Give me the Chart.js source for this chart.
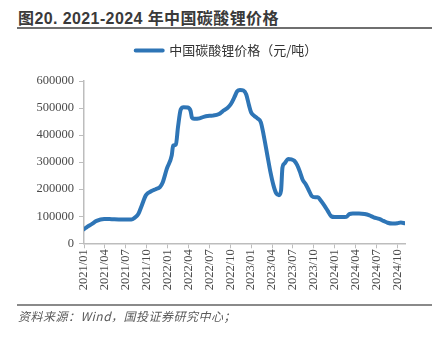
<!DOCTYPE html>
<html>
<head>
<meta charset="utf-8">
<script src="https://cdn.jsdelivr.net/npm/chart.js@4/dist/chart.umd.min.js"></script>
<style>
  html, body { margin: 0; padding: 0; background: #fff; }
  #page { position: relative; width: 436px; height: 338px; overflow: hidden; }
  #title { position: absolute; left: 18px; top: 5px; font: bold 16px "Liberation Sans", "Noto Sans CJK SC", sans-serif; color: #3a3a3a; letter-spacing: 0.4px; white-space: nowrap; }
  #title .cjk { font-family: "Noto Sans CJK SC", sans-serif; }
  .rule { position: absolute; left: 17px; width: 415px; }
  #ruleTop { top: 27px; height: 2px; background: #6f6f6f; }
  #ruleBottom { top: 304px; height: 2px; background: #8a8a8a; }
  #source { position: absolute; left: 18px; top: 307px; font: italic 12px "Noto Sans CJK SC", sans-serif; color: #5a5a5a; letter-spacing: 0.5px; white-space: nowrap; }
  #wrap { position: absolute; left: 0; top: 35px; width: 436px; height: 270px; }
</style>
</head>
<body>
<div id="page">
  <div id="title"><span class="cjk">图</span>20. 2021-2024 <span class="cjk">年中国碳酸锂价格</span></div>
  <div class="rule" id="ruleTop"></div>
  <div id="wrap"><canvas id="myChart"></canvas></div>
  <div class="rule" id="ruleBottom"></div>
  <div id="source">资料来源：Wind，国投证券研究中心；</div>
</div>
<script>
'use strict';

// 系列名
const seriesName = '中国碳酸锂价格（元/吨）';

// 横轴位置：自 2021/01 起的月数
const monthIdx = [
  0.0, 0.5, 1.1, 1.8, 2.9, 4.0, 5.0, 6.0, 6.8, 7.3,
  7.8, 8.3, 8.9, 9.7, 10.3, 10.9, 11.3, 11.9, 12.6, 12.8,
  13.2, 13.5, 13.9, 14.3, 14.9, 15.3, 15.5, 15.8, 16.6, 17.5,
  18.5, 19.4, 19.9, 20.6, 21.1, 21.6, 22.0, 22.4, 22.9, 23.3,
  23.7, 24.0, 24.5, 24.9, 25.4, 25.8, 26.3, 26.8, 27.2, 27.6,
  28.0, 28.3, 28.5, 28.8, 29.3, 29.8, 30.2, 30.6, 31.0, 31.4,
  31.8, 32.3, 32.7, 33.2, 33.6, 34.0, 34.5, 35.0, 35.5, 36.0,
  37.0, 37.7, 38.1, 38.6, 39.5, 40.3, 41.0, 41.6, 42.4, 43.0,
  43.6, 44.3, 45.0, 45.5, 46.1
];

// 价格（元/吨）
const prices = [
  52000, 62000, 71000, 83000, 90000, 89000, 88000, 88000, 88000, 95000,
  108000, 140000, 178000, 193000, 200000, 208000, 225000, 276000, 325000, 361000,
  365000, 430000, 495000, 503000, 502000, 490000, 465000, 460000, 462000, 470000,
  472000, 478000, 488000, 500000, 515000, 540000, 562000, 567000, 565000, 550000,
  510000, 484000, 470000, 462000, 447000, 400000, 330000, 260000, 215000, 185000,
  178000, 195000, 280000, 295000, 312000, 310000, 305000, 290000, 265000, 235000,
  220000, 195000, 175000, 170000, 170000, 158000, 140000, 120000, 100000, 97000,
  97000, 98000, 108000, 110000, 110000, 108000, 103000, 96000, 90000, 83000,
  76000, 73000, 74000, 77000, 74000
];

// 横轴刻度标签（每季度）
const tickLabels = [
  '2021/01', '2021/04', '2021/07', '2021/10',
  '2022/01', '2022/04', '2022/07', '2022/10',
  '2023/01', '2023/04', '2023/07', '2023/10',
  '2024/01', '2024/04', '2024/07', '2024/10'
];

const yTicks = [0, 100000, 200000, 300000, 400000, 500000, 600000];

const blue = '#2e75b6';
const axisColor = '#bdbdbd';
const tickFont = { family: 'Liberation Serif', size: 12.5 };

const points = monthIdx.map((m, i) => ({ x: m, y: prices[i] }));

// 图例下方留白
const legendGap = {
  id: 'legendGap',
  beforeUpdate(chart) {
    const lg = chart.legend;
    if (lg && !lg._gapPatched) {
      const fit = lg.fit;
      lg.fit = function () {
        fit.call(this);
        this.height += 14;
      };
      lg._gapPatched = true;
    }
  }
};

const canvas = document.getElementById('myChart');
canvas.width = 436;
canvas.height = 270;
canvas.style.width = '436px';
canvas.style.height = '270px';
const ctx = canvas.getContext('2d');

const config = {
  type: 'line',
  data: {
    datasets: [{
      label: seriesName,
      data: points,
      borderColor: blue,
      backgroundColor: blue,
      borderWidth: 4,
      pointRadius: 0,
      cubicInterpolationMode: 'monotone',
      borderCapStyle: 'round',
      borderJoinStyle: 'round',
    }]
  },
  options: {
    responsive: false,
    animation: false,
    layout: { padding: { top: 4, right: 0, left: 17, bottom: 0 } },
    scales: {
      x: {
        type: 'linear',
        min: 0,
        max: 46.1,
        afterFit: (scale) => { scale.height = 61.7; },
        grid: { drawOnChartArea: false, drawTicks: true, tickLength: 5, color: axisColor, lineWidth: 1 },
        border: { color: axisColor, width: 1.5 },
        ticks: {
          stepSize: 3,
          includeBounds: false,
          autoSkip: false,
          minRotation: 90,
          maxRotation: 90,
          padding: 1,
          color: '#4a4a4a',
          font: tickFont,
          callback: (v) => tickLabels[Math.round(v / 3)] || '',
        },
      },
      y: {
        type: 'linear',
        min: 0,
        max: 600000,
        afterFit: (scale) => { scale.width = 67; },
        afterBuildTicks: (scale) => { scale.ticks = yTicks.map(v => ({ value: v })); },
        grid: { drawOnChartArea: false, drawTicks: true, tickLength: 5, color: axisColor, lineWidth: 1 },
        border: { color: axisColor, width: 1.5 },
        ticks: {
          padding: 5,
          color: '#4a4a4a',
          font: tickFont,
          callback: (v) => String(v),
        },
      },
      yR: {
        type: 'linear',
        position: 'right',
        display: true,
        afterFit: (scale) => { scale.width = 31; },
        grid: { display: false },
        border: { display: false },
        ticks: { display: false },
      },
    },
    plugins: {
      legend: {
        display: true,
        position: 'top',
        labels: {
          boxWidth: 27,
          boxHeight: 0,
          padding: 5,
          color: '#333',
          font: { family: 'Noto Sans CJK SC', size: 13 },
        },
      },
      tooltip: { enabled: false },
    },
  },
  plugins: [legendGap],
};

new Chart(ctx, config);
</script>
</body>
</html>
